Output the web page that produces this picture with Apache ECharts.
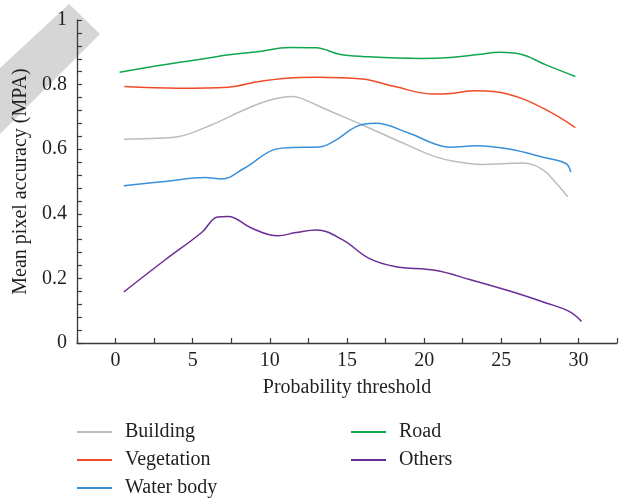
<!DOCTYPE html>
<html>
<head>
<meta charset="utf-8">
<script src="https://cdn.jsdelivr.net/npm/echarts@6/dist/echarts.min.js"></script>
<style>html,body{margin:0;padding:0;background:#fff}#c{width:620px;height:501px}</style>
</head>
<body>
<div id="c"></div>
<script>
var seriesNames = ['Building', 'Vegetation', 'Water body', 'Road', 'Others'];
var xTickLabels = ['0', '5', '10', '15', '20', '25', '30'];
var yTickLabels = ['0', '0.2', '0.4', '0.6', '0.8', '1'];

var buildingX = [0.53, 2.8, 4.1, 6.2, 8.35, 9.85, 11.45, 12.0, 13.7, 16.0, 19.0, 20.7, 22.0, 23.7, 26.4, 27.7, 28.55, 29.3];
var buildingY = [0.631, 0.634, 0.639, 0.675, 0.722, 0.750, 0.763, 0.758, 0.722, 0.675, 0.611, 0.577, 0.562, 0.553, 0.557, 0.536, 0.495, 0.453];

var vegetationX = [0.57, 4.1, 7.3, 9.2, 11.1, 13.0, 16.0, 18.1, 20.5, 21.5, 23.4, 25.4, 27.7, 29.8];
var vegetationY = [0.794, 0.789, 0.792, 0.809, 0.820, 0.823, 0.817, 0.794, 0.771, 0.772, 0.781, 0.771, 0.727, 0.667];

var waterX = [0.53, 3.2, 5.8, 6.86, 8.35, 10.45, 11.5, 13.2, 14.3, 15.6, 16.85, 19.0, 20.7, 21.7, 23.4, 25.6, 27.7, 29.2, 29.5];
var waterY = [0.487, 0.5, 0.512, 0.508, 0.541, 0.601, 0.605, 0.607, 0.629, 0.67, 0.680, 0.65, 0.616, 0.606, 0.611, 0.600, 0.575, 0.555, 0.529];

var roadX = [0.26, 2.5, 5.4, 7.5, 9.2, 11.3, 13.0, 14.5, 16.0, 19.8, 21.7, 23.5, 24.9, 26.2, 27.9, 29.8];
var roadY = [0.838, 0.857, 0.878, 0.893, 0.902, 0.915, 0.914, 0.894, 0.887, 0.881, 0.884, 0.893, 0.900, 0.895, 0.861, 0.825];

var othersX = [0.53, 3.2, 5.6, 6.6, 7.3, 8.8, 10.5, 11.7, 13.0, 14.7, 16.4, 18.1, 20.7, 23.0, 25.6, 27.9, 29.4, 30.2];
var othersY = [0.158, 0.257, 0.343, 0.39, 0.392, 0.356, 0.332, 0.342, 0.350, 0.32, 0.263, 0.237, 0.225, 0.196, 0.160, 0.124, 0.098, 0.067];

var colors = ['#bcbcbc', '#f04a27', '#3a90d8', '#12a650', '#6a2d95'];

function pairs(xs, ys) { return xs.map(function (x, i) { return [x, ys[i]]; }); }
var allData = [pairs(buildingX, buildingY), pairs(vegetationX, vegetationY), pairs(waterX, waterY), pairs(roadX, roadY), pairs(othersX, othersY)];

var FONT = 'Liberation Serif';
var txt = { fontFamily: FONT, fontSize: 20, color: '#231f20' };
var axisCol = '#3a3a3a';
var legendText = { fontFamily: FONT, fontSize: 20, color: '#231f20', lineHeight: 20, padding: [0, 0, 0, 8] };

var chart = echarts.init(document.getElementById('c'), null, { renderer: 'canvas' });
chart.setOption({
  animation: false,
  backgroundColor: '#fff',
  graphic: [{
    type: 'polygon', z: -10,
    shape: { points: [[69, 4], [100, 34], [0, 134], [0, 68]] },
    style: { fill: '#d6d6d6' }
  }],
  grid: { left: 77, right: -5, top: 20, bottom: 158, containLabel: false },
  legend: [{
    data: seriesNames.slice(0, 3), orient: 'vertical', left: 77, top: 422, padding: 0,
    icon: 'rect', itemWidth: 35, itemHeight: 2, itemGap: 8, textStyle: legendText
  }, {
    data: seriesNames.slice(3), orient: 'vertical', left: 351, top: 422, padding: 0,
    icon: 'rect', itemWidth: 35, itemHeight: 2, itemGap: 8, textStyle: legendText
  }],
  xAxis: {
    type: 'value', min: -2.5, max: 32.5, interval: 2.5,
    name: 'Probability threshold', nameLocation: 'middle', nameGap: 35,
    nameTextStyle: txt,
    axisLine: { onZero: false, lineStyle: { color: axisCol, width: 1.3 } },
    axisTick: { inside: true, length: 5, lineStyle: { color: axisCol, width: 1.2 } },
    axisLabel: Object.assign({ margin: 8, formatter: function (v) {
      var r = Math.round(v);
      if (Math.abs(v - r) < 1e-6 && r % 5 === 0 && r >= 0 && r <= 30) return xTickLabels[r / 5];
      return '';
    } }, txt),
    splitLine: { show: false }
  },
  yAxis: {
    type: 'value', min: 0, max: 1, interval: 0.2,
    name: 'Mean pixel accuracy (MPA)', nameLocation: 'middle', nameGap: 39,
    nameTextStyle: txt,
    axisLine: { onZero: false, lineStyle: { color: axisCol, width: 1.3 } },
    axisTick: { inside: true, length: 5, lineStyle: { color: axisCol, width: 1.2 } },
    minorTick: { show: true, splitNumber: 5, length: 5, lineStyle: { color: axisCol, width: 1.2 } },
    axisLabel: Object.assign({ margin: 10, formatter: function (v) {
      return yTickLabels[Math.round(v / 0.2)];
    } }, txt),
    splitLine: { show: false },
    minorSplitLine: { show: false }
  },
  series: seriesNames.map(function (n, i) {
    return {
      name: n, type: 'line', data: allData[i], showSymbol: false, symbol: 'none',
      smooth: 0.4,
      lineStyle: { color: colors[i], width: 1.5 }, itemStyle: { color: colors[i] }
    };
  })
});
</script>
</body>
</html>
